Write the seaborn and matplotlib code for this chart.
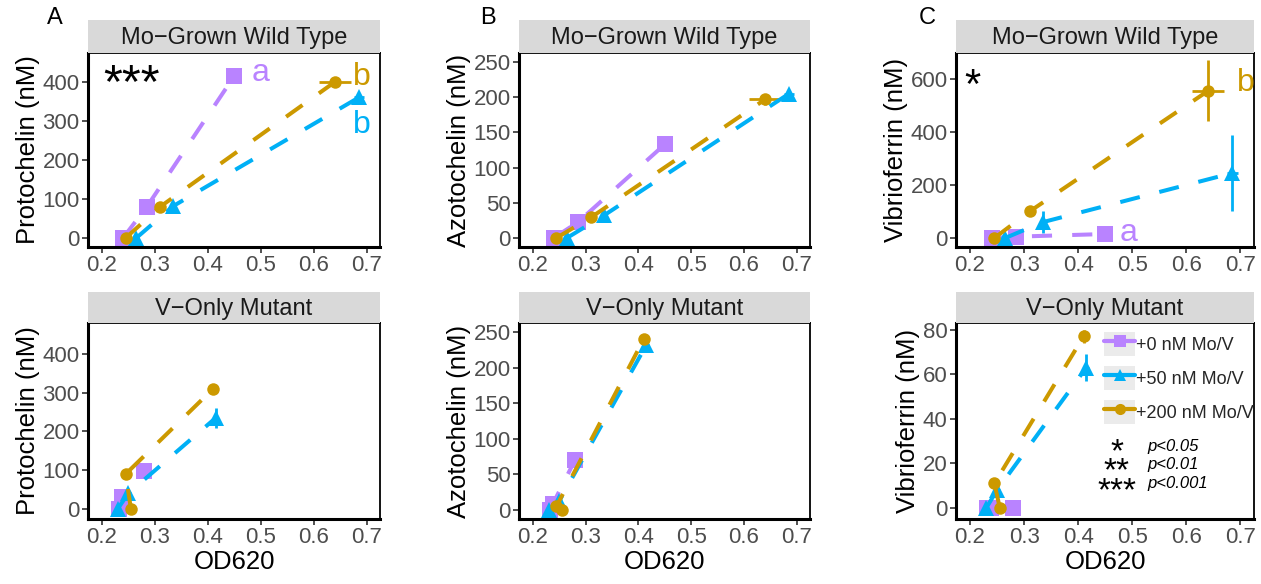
import numpy as np
import pandas as pd
import seaborn as sns
import matplotlib.pyplot as plt
from matplotlib.legend_handler import HandlerLine2D
from matplotlib.lines import Line2D
from matplotlib.patches import Rectangle

# dose levels and colours
doses = ["+0 nM Mo/V", "+50 nM Mo/V", "+200 nM Mo/V"]
dose_colors = ["#B983FF", "#00B0F6", "#CC9900"]
dose_markers = ["s", "^", "o"]

strains = ["Mo-Grown Wild Type", "V-Only Mutant"]
strain_titles = ["Mo\u2212Grown Wild Type", "V\u2212Only Mutant"]
siderophores = ["Protochelin", "Azotochelin", "Vibrioferrin"]
panel_letters = ["A", "B", "C"]

# OD620 at the three sampling points (per strain, per dose)
od_wt_0 = [0.240, 0.285, 0.450]
od_wt_50 = [0.265, 0.335, 0.685]
od_wt_200 = [0.245, 0.310, 0.640]
od_v_0 = [0.232, 0.238, 0.280]
od_v_50 = [0.230, 0.250, 0.415]
od_v_200 = [0.255, 0.245, 0.410]

od_err_wt_0 = [0.005, 0.005, 0.010]
od_err_wt_50 = [0.005, 0.005, 0.010]
od_err_wt_200 = [0.005, 0.005, 0.030]
od_err_v_0 = [0.005, 0.005, 0.005]
od_err_v_50 = [0.005, 0.005, 0.005]
od_err_v_200 = [0.005, 0.005, 0.005]

# siderophore concentrations (nM)
pro_wt_0 = [0, 80, 415]
pro_wt_50 = [0, 82, 360]
pro_wt_200 = [0, 80, 400]
pro_v_0 = [0, 32, 97]
pro_v_50 = [0, 40, 235]
pro_v_200 = [0, 90, 310]

azo_wt_0 = [0, 22, 133]
azo_wt_50 = [0, 32, 205]
azo_wt_200 = [0, 29, 197]
azo_v_0 = [0, 8, 70]
azo_v_50 = [0, 12, 232]
azo_v_200 = [0, 5, 240]

vib_wt_0 = [0, 5, 15]
vib_wt_50 = [0, 60, 245]
vib_wt_200 = [0, 100, 555]
vib_v_0 = [0, 0, 0]
vib_v_50 = [0, 8, 63]
vib_v_200 = [0, 11, 77]

# standard errors (nM)
pro_err_wt_0 = [2, 5, 8]
pro_err_wt_50 = [2, 5, 10]
pro_err_wt_200 = [2, 5, 8]
pro_err_v_0 = [2, 5, 5]
pro_err_v_50 = [2, 8, 25]
pro_err_v_200 = [2, 5, 8]

azo_err_wt_0 = [1, 3, 5]
azo_err_wt_50 = [1, 3, 5]
azo_err_wt_200 = [1, 3, 8]
azo_err_v_0 = [1, 3, 5]
azo_err_v_50 = [1, 3, 8]
azo_err_v_200 = [1, 3, 5]

vib_err_wt_0 = [2, 3, 5]
vib_err_wt_50 = [2, 40, 145]
vib_err_wt_200 = [2, 10, 115]
vib_err_v_0 = [0.5, 0.5, 0.5]
vib_err_v_50 = [0.5, 2, 6]
vib_err_v_200 = [0.5, 2, 3]

od_values = {
    strains[0]: [od_wt_0, od_wt_50, od_wt_200],
    strains[1]: [od_v_0, od_v_50, od_v_200],
}
od_errors = {
    strains[0]: [od_err_wt_0, od_err_wt_50, od_err_wt_200],
    strains[1]: [od_err_v_0, od_err_v_50, od_err_v_200],
}
conc_values = {
    ("Protochelin", strains[0]): [pro_wt_0, pro_wt_50, pro_wt_200],
    ("Protochelin", strains[1]): [pro_v_0, pro_v_50, pro_v_200],
    ("Azotochelin", strains[0]): [azo_wt_0, azo_wt_50, azo_wt_200],
    ("Azotochelin", strains[1]): [azo_v_0, azo_v_50, azo_v_200],
    ("Vibrioferrin", strains[0]): [vib_wt_0, vib_wt_50, vib_wt_200],
    ("Vibrioferrin", strains[1]): [vib_v_0, vib_v_50, vib_v_200],
}
conc_errors = {
    ("Protochelin", strains[0]): [pro_err_wt_0, pro_err_wt_50, pro_err_wt_200],
    ("Protochelin", strains[1]): [pro_err_v_0, pro_err_v_50, pro_err_v_200],
    ("Azotochelin", strains[0]): [azo_err_wt_0, azo_err_wt_50, azo_err_wt_200],
    ("Azotochelin", strains[1]): [azo_err_v_0, azo_err_v_50, azo_err_v_200],
    ("Vibrioferrin", strains[0]): [vib_err_wt_0, vib_err_wt_50, vib_err_wt_200],
    ("Vibrioferrin", strains[1]): [vib_err_v_0, vib_err_v_50, vib_err_v_200],
}

y_ticks = {
    ("Protochelin", strains[0]): [0, 100, 200, 300, 400],
    ("Protochelin", strains[1]): [0, 100, 200, 300, 400],
    ("Azotochelin", strains[0]): [0, 50, 100, 150, 200, 250],
    ("Azotochelin", strains[1]): [0, 50, 100, 150, 200, 250],
    ("Vibrioferrin", strains[0]): [0, 200, 400, 600],
    ("Vibrioferrin", strains[1]): [0, 20, 40, 60, 80],
}
y_limits = {
    ("Protochelin", strains[0]): (-23, 474),
    ("Protochelin", strains[1]): (-26, 480),
    ("Azotochelin", strains[0]): (-13, 263),
    ("Azotochelin", strains[1]): (-13, 263),
    ("Vibrioferrin", strains[0]): (-34, 698),
    ("Vibrioferrin", strains[1]): (-5, 83),
}
x_ticks = [0.2, 0.3, 0.4, 0.5, 0.6, 0.7]

# significance letters: (siderophore, text, dose index, x, y)
letters = [
    ("Protochelin", "a", 0, 0.483, 423),
    ("Protochelin", "b", 2, 0.674, 413),
    ("Protochelin", "b", 1, 0.674, 290),
    ("Vibrioferrin", "a", 0, 0.477, 18),
    ("Vibrioferrin", "b", 2, 0.693, 585),
]
# significance stars: (siderophore, text, size, x, y)
stars = [("Protochelin", "***", 35, 0.203, 393), ("Vibrioferrin", "*", 30, 0.190, 570)]

# long table
rows = []
for sid in siderophores:
    for strain in strains:
        for d, dose in enumerate(doses):
            for t in range(3):
                rows.append({
                    "siderophore": sid, "strain": strain, "dose": dose, "time": t,
                    "od": od_values[strain][d][t], "od_err": od_errors[strain][d][t],
                    "conc": conc_values[(sid, strain)][d][t],
                    "conc_err": conc_errors[(sid, strain)][d][t],
                })
df = pd.DataFrame(rows)

sns.set_theme(style="white")
plt.rcParams["font.family"] = ["Liberation Sans", "DejaVu Sans"]

fig = plt.figure(figsize=(12.61, 5.84), dpi=100)

col_left = [88 / 1261, 519 / 1261, 956 / 1261]
col_width = [292 / 1261, 291 / 1261, 298 / 1261]
row_bottom = [1 - 247 / 584, 1 - 519 / 584]
row_height = [194 / 584, 196 / 584]
strip_bottom = [1 - 53 / 584, 1 - 323 / 584]
strip_height = [33 / 584, 31 / 584]
letter_x = [55 / 1261, 488 / 1261, 927 / 1261]

palette = dict(zip(doses, dose_colors))
markers = dict(zip(doses, dose_markers))
dash_map = {d: (5, 5) for d in doses}
msize = {"s": 11, "^": 11.5, "o": 9}

axes = {}
for c, sid in enumerate(siderophores):
    fig.text(letter_x[c], 1 - 18 / 584, panel_letters[c], fontsize=17,
             ha="center", va="center", color="black")
    for r, strain in enumerate(strains):
        ax = fig.add_axes([col_left[c], row_bottom[r], col_width[c], row_height[r]])
        axes[(sid, strain)] = ax
        sub = df[(df.siderophore == sid) & (df.strain == strain)]

        sns.lineplot(data=sub, x="od", y="conc", hue="dose", style="dose",
                     hue_order=doses, style_order=doses, palette=palette,
                     markers=markers, dashes=dash_map, sort=False,
                     estimator=None, units="dose", linewidth=2.9,
                     markeredgewidth=0, legend=False, ax=ax)
        for ln in ax.lines:
            m = ln.get_marker()
            if m in msize:
                ln.set_markersize(msize[m])

        for d, dose in enumerate(doses):
            s = sub[sub.dose == dose]
            ax.errorbar(s.od, s.conc, xerr=s.od_err, yerr=s.conc_err, fmt="none",
                        ecolor=dose_colors[d], elinewidth=2, capsize=0, zorder=1.5)

        ax.set_xlim(0.174, 0.725)
        ax.set_ylim(*y_limits[(sid, strain)])
        ax.set_xticks(x_ticks)
        ax.set_xticklabels([f"{v:.1f}" for v in x_ticks])
        ax.set_yticks(y_ticks[(sid, strain)])
        ax.set_ylabel(f"{sid} (nM)", fontsize=18.5, color="black", labelpad=2)
        ax.set_xlabel("OD620" if r == 1 else "", fontsize=18.5, color="black",
                      labelpad=1)
        ax.tick_params(axis="both", direction="out", length=4, width=1.2,
                       color="#333333", labelcolor="#4D4D4D", labelsize=16, pad=2,
                       left=True, bottom=True)
        for side, sp in ax.spines.items():
            sp.set_color("black")
            sp.set_visible(True)
            sp.set_linewidth(2.2 if side in ("left", "bottom") else 1.3)
        ax.set_facecolor("white")

        strip = fig.add_axes([col_left[c], strip_bottom[r], col_width[c], strip_height[r]])
        strip.set_facecolor("#D9D9D9")
        strip.set_xticks([])
        strip.set_yticks([])
        for sp in strip.spines.values():
            sp.set_visible(False)
        strip.text(0.5, 0.45, strain_titles[r], transform=strip.transAxes,
                   ha="center", va="center", fontsize=17, color="#1A1A1A")

# significance letters and stars on the wild-type panels
for sid, txt, d, x, y in letters:
    axes[(sid, strains[0])].text(x, y, txt, color=dose_colors[d], fontsize=23,
                                 ha="left", va="center")
for sid, txt, size, x, y in stars:
    axes[(sid, strains[0])].text(x, y, txt, color="black", fontsize=size,
                                 ha="left", va="center")


# legend with grey key backgrounds
class KeyHandler(HandlerLine2D):
    def create_artists(self, legend, orig_handle, xdescent, ydescent,
                       width, height, fontsize, trans):
        arts = super().create_artists(legend, orig_handle, xdescent, ydescent,
                                      width, height, fontsize, trans)
        bg = Rectangle((-xdescent, -ydescent), width, height, facecolor="#EBEBEB",
                       edgecolor="none", transform=trans)
        return [bg] + list(arts)


leg_ax = axes[("Vibrioferrin", strains[1])]
handles = [Line2D([], [], color=dose_colors[d], marker=dose_markers[d],
                  markersize=8, linewidth=3, markeredgewidth=0)
           for d in range(3)]
leg_ax.legend(handles, doses, loc="upper left", bbox_to_anchor=(0.497, 0.954),
              frameon=False, fontsize=13, handlelength=1.72, handleheight=1.66,
              labelspacing=0.55, handletextpad=0.05, borderpad=0, borderaxespad=0,
              numpoints=1, handler_map={Line2D: KeyHandler()})

# p-value key, each column as one multi-line text
p_labels = ["p<0.05", "p<0.01", "p<0.001"]
p_stars = ["*", "**", "***"]
leg_ax.text(0.54, 0.24, "\n".join(p_stars), transform=leg_ax.transAxes,
            fontsize=24, linespacing=0.52, ha="center", va="center",
            multialignment="center", color="black")
leg_ax.text(0.641, 0.276, "\n".join(p_labels), transform=leg_ax.transAxes,
            fontsize=12, linespacing=1.28, fontstyle="italic", ha="left",
            va="center", color="black")

fig.savefig("out.png", dpi=100)
